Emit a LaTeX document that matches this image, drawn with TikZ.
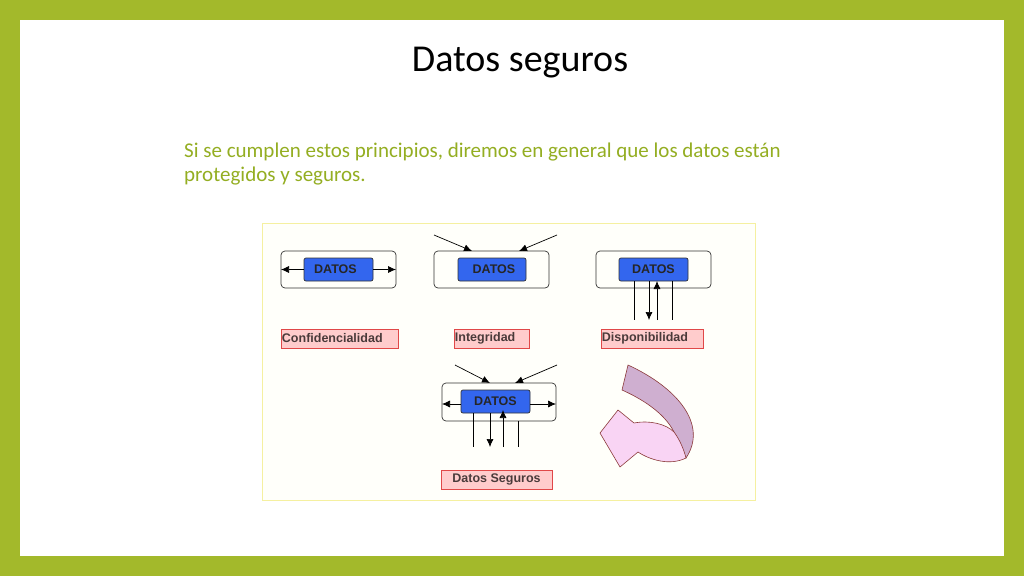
\documentclass[tikz,border=0pt]{standalone}
\usepackage{fontspec}
\setmainfont{Carlito}
\newfontfamily\arialf{Liberation Sans}
\usetikzlibrary{arrows.meta}
\definecolor{frame}{HTML}{A3B92B}
\definecolor{txtg}{HTML}{94AE22}
\definecolor{blu}{HTML}{3366EE}
\definecolor{pnk}{HTML}{FFCCCC}
\definecolor{pnkb}{HTML}{E04848}
\definecolor{lbl}{HTML}{4A3A3A}
\definecolor{mauve}{HTML}{CFAFD0}
\definecolor{light}{HTML}{F9D4F4}
\definecolor{outl}{HTML}{8B3A3A}
\tikzset{
 outer/.style={draw=black!80,rounded corners=4pt,line width=0.7pt},
 inner/.style={draw=black!80,fill=blu,rounded corners=2pt,line width=0.7pt},
 arr/.style={-{Latex[length=8pt,width=7pt]},line width=0.7pt},
 pl/.style={line width=0.7pt},
 lab/.style={draw=pnkb,fill=pnk,line width=0.5pt},
 dt/.style={font=\arialf\bfseries\fontsize{12.5}{13}\selectfont,text=black!85},
 lt/.style={font=\arialf\bfseries\fontsize{12.5}{13}\selectfont,text=lbl,inner sep=1pt}
}
\begin{document}
\begin{tikzpicture}[x=1pt,y=-1pt]
\fill[frame] (0,0) rectangle (1024,576);
\fill[white] (20,20) rectangle (1004,556);
\useasboundingbox (0,0) rectangle (1024,576);
\node (title) at (520,63) {\fontsize{38}{44}\selectfont Datos seguros};
\node[text=txtg,text width=655pt,align=justify,anchor=north west,inner sep=0pt] (para) at (184,143) {\fontsize{21}{23.5}\selectfont Si se cumplen estos principios, diremos en general que los datos están\\ protegidos y seguros.\par};
\draw[draw={rgb,255:red,245;green,240;blue,160},fill={rgb,255:red,255;green,255;blue,250},line width=1pt] (262,223) rectangle (755,500);
% box 1
\draw[outer] (281,251) rectangle (396,288);
\node[inner,minimum width=69pt,minimum height=23pt,inner sep=0pt,dt] (d1) at (338.5,269.5) {\hspace*{-6pt}DATOS};
\coordinate (l1) at (281,269.5); \coordinate (r1) at (396,269.5);
\draw[arr] (d1.west) -- (l1); \draw[arr] (d1.east) -- (r1);
% box 2
\draw[outer] (434,251) rectangle (549,288);
\node[inner,minimum width=68pt,minimum height=23pt,inner sep=0pt,dt] (d2) at (492,269.5) {\hspace*{4pt}DATOS};
\coordinate (a2) at (434,235); \coordinate (b2) at (472,251);
\coordinate (c2) at (557,235); \coordinate (e2) at (519,251);
\draw[arr] (a2) -- (b2); \draw[arr] (c2) -- (e2);
% box 3
\draw[outer] (596,251) rectangle (711,288);
\node[inner,minimum width=69pt,minimum height=23pt,inner sep=0pt,dt] (d3) at (653.5,269.5) {DATOS};
\draw[pl] (634,281) -- (634,320); \draw[pl] (672,281) -- (672,320);
\draw[arr] (649,281) -- (649,320); \draw[arr] (657,320) -- (657,281);
% labels
\node[lab,minimum width=117pt,minimum height=19pt] (L1) at (339.5,338.5) {};
\node[lt,anchor=west] at (L1.west) {Confidencialidad};
\node[lab,minimum width=75pt,minimum height=19pt] (L2) at (491.5,338.5) {};
\node[lt,anchor=west] at (L2.west) {Integridad};
\node[lab,minimum width=102pt,minimum height=19pt] (L3) at (652,338.5) {};
\node[lt,anchor=west] at (L3.west) {Disponibilidad};
% bottom box
\draw[outer] (442,383) rectangle (556,421);
\node[inner,minimum width=69pt,minimum height=23pt,inner sep=0pt,dt] (d4) at (495.5,401.5) {DATOS};
\coordinate (a4) at (455,365); \coordinate (b4) at (490,383);
\coordinate (c4) at (557,365); \coordinate (e4) at (515,383);
\draw[arr] (a4) -- (b4); \draw[arr] (c4) -- (e4);
\coordinate (l4) at (442,404); \coordinate (r4) at (556,404);
\draw[arr] (d4.west|-l4) -- (l4); \draw[arr] (d4.east|-r4) -- (r4);
\draw[pl] (473,413) -- (473,447); \draw[pl] (518,421) -- (518,447);
\draw[arr] (490,413) -- (490,447); \draw[arr] (503,447) -- (503,410);
\node[lab,minimum width=111pt,minimum height=19pt,lt] (L4) at (496.5,479.5) {Datos Seguros};
% curved arrow
\draw[fill=mauve,draw=outl,line width=0.6pt] (628,365) .. controls (678,388) and (708,425) .. (686,458) -- (674,432) .. controls (664,412) and (640,398) .. (622,390) -- cycle;
\draw[fill=light,draw=outl,line width=0.6pt] (686,458) .. controls (670,466) and (650,460) .. (638,452) -- (620,467) -- (600,433) -- (618,410) -- (634,423) .. controls (650,420) and (666,424) .. (674,432) .. controls (680,440) and (684,450) .. (686,458) -- cycle;
\end{tikzpicture}
\end{document}
